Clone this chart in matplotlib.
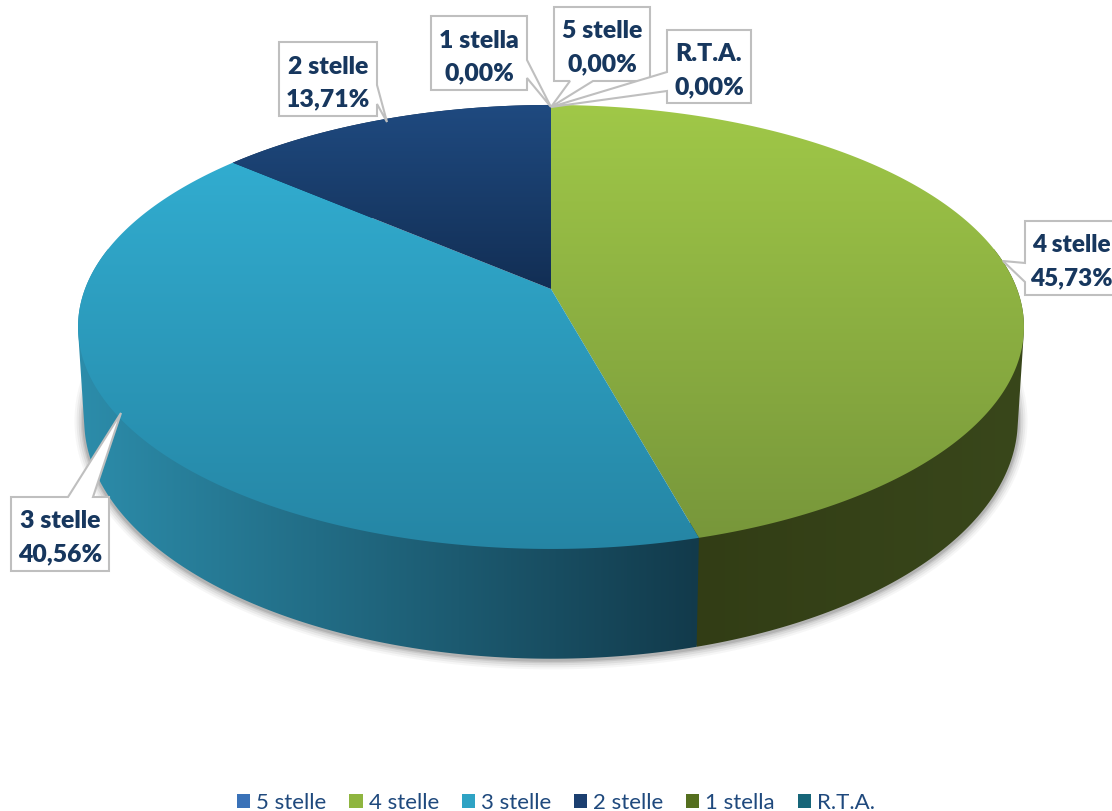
import numpy as np
import matplotlib
matplotlib.use("Agg")
import matplotlib.pyplot as plt
from matplotlib.colors import LinearSegmentedColormap as LSC
from matplotlib.patches import Polygon, Patch

# Data
categories = ["5 stelle", "4 stelle", "3 stelle", "2 stelle", "1 stella", "R.T.A."]
values = [0.00, 45.73, 40.56, 13.71, 0.00, 0.00]
value_labels = ["0,00%", "45,73%", "40,56%", "13,71%", "0,00%", "0,00%"]

# Style per category: top gradient (upper, lower), wall gradient (left, right), legend colour
top_cols = {"5 stelle": ("#3c78c0", "#2f5f9a"), "4 stelle": ("#a0c848", "#76953a"),
            "3 stelle": ("#33b2d6", "#2585a4"), "2 stelle": ("#1f4a80", "#122e54"),
            "1 stella": ("#5f7a22", "#4a5f1a"), "R.T.A.": ("#1a6f85", "#124f60")}
wall_cols = {"4 stelle": ("#323d15", "#39471b"), "3 stelle": ("#2c8dab", "#123a4b"),
             "2 stelle": ("#122e54", "#122e54")}
legend_cols = ["#3a72b8", "#8fb53f", "#2ea3c4", "#1b3f70", "#556f1f", "#176679"]
text_col = "#17375e"

# Label boxes: left, right, top, bottom, pointer root A, tip, pointer root B
boxes = {
    "2 stelle": (279, 377, 43, 117, (377, 105), (387, 123), (377, 86)),
    "1 stella": (431, 527, 17, 91, (527, 79), (551, 108), (527, 61)),
    "5 stelle": (554, 650, 8, 82, (570, 82), (551, 108), (593, 82)),
    "R.T.A.": (667, 751, 31, 104, (667, 92), (551, 108), (667, 73)),
    "4 stelle": (1025, 1130, 222, 296, (1025, 283), (1003, 262), (1025, 264)),
    "3 stelle": (11, 109, 498, 572, (68, 498), (121, 414), (93, 498)),
}
sides = {"2 stelle": "right", "1 stella": "right", "5 stelle": "bottom",
         "R.T.A.": "left", "4 stelle": "left", "3 stelle": "top"}

W, H = 1112, 812
CX, CY = 551, 290
A, B, K = 215.5, 466.0, 0.171
D0 = 91.0
VY = 7500.0

fig = plt.figure(figsize=(W / 100, H / 100), dpi=100, facecolor="white")
ax = fig.add_axes([0, 0, 1, 1])
ax.set_xlim(0, W)
ax.set_ylim(H, 0)
ax.axis("off")
ax.set_autoscale_on(False)


def top_pt(t):
    X, Y = np.sin(t), -np.cos(t)
    w = 1 - K * Y
    return CX + B * X / w, CY + A * Y / w, w


def low_pt(t):
    x, y, w = top_pt(t)
    d = D0 / w
    s = 1 - d / (VY - y)
    return CX + (x - CX) * s, y + d


def hull(points):
    pts = sorted(map(tuple, points))

    def half(seq):
        out = []
        for p in seq:
            while len(out) >= 2 and ((out[-1][0] - out[-2][0]) * (p[1] - out[-2][1])
                                     - (out[-1][1] - out[-2][1]) * (p[0] - out[-2][0])) <= 0:
                out.pop()
            out.append(p)
        return out[:-1]

    return np.array(half(pts) + half(pts[::-1]))


def grad(poly, c0, c1, horizontal, ext, z):
    patch = Polygon(poly, closed=True, fc="none", ec="none", transform=ax.transData)
    ax.add_patch(patch)
    cm = LSC.from_list("g", [c0, c1])
    g = np.linspace(0, 1, 256)
    g = g[None, :] if horizontal else g[:, None]
    im = ax.imshow(g, extent=ext, aspect="auto", cmap=cm, vmin=0, vmax=1,
                   origin="upper", zorder=z, interpolation="bilinear")
    im.set_clip_path(patch)


fracs = np.array(values) / sum(values)
ends = np.cumsum(fracs) * 2 * np.pi
starts = ends - fracs * 2 * np.pi

# Soft shadow under the lower rim
tt = np.linspace(np.pi * 0.45, np.pi * 1.55, 300)
lx, ly = low_pt(tt)
for lw, al in zip([14, 11, 8, 5, 3], [0.04, 0.06, 0.08, 0.10, 0.14]):
    ax.plot(lx, ly + 1, color="#303030", lw=lw, alpha=al, zorder=1, solid_capstyle="round")

# Side walls
for name, s, e in zip(categories, starts, ends):
    if e - s <= 0 or name not in wall_cols:
        continue
    t = np.linspace(s, e, 200)
    ux, uy, _ = top_pt(t)
    bx, by = low_pt(t)
    poly = hull(np.r_[np.c_[ux, uy], np.c_[bx, by]])
    c0, c1 = wall_cols[name]
    if name == "4 stelle":
        ext = (690, 1030, 700, 250)
    elif name == "3 stelle":
        ext = (75, 700, 700, 250)
    else:
        ext = (230, 560, 300, 100)
    grad(poly, c0, c1, True, ext, 2)

# Top faces
for name, s, e in zip(categories, starts, ends):
    if e - s <= 0:
        continue
    t = np.linspace(s, e, 300)
    ux, uy, _ = top_pt(t)
    poly = np.r_[[[CX, CY]], np.c_[ux, uy]]
    c0, c1 = top_cols[name]
    if name == "2 stelle":
        ext = (220, 560, 292, 105)
    else:
        ext = (70, 1030, 555, 105)
    grad(poly, c0, c1, False, ext, 3)

# Labels
for name, lab in zip(categories, value_labels):
    l, r, t, b, p0, tip, p1 = boxes[name]
    side = sides[name]
    if side == "right":
        pts = [(l, t), (r, t), p1, tip, p0, (r, b), (l, b)]
    elif side == "left":
        pts = [(l, t), (r, t), (r, b), (l, b), p0, tip, p1]
    elif side == "bottom":
        pts = [(l, t), (r, t), (r, b), p1, tip, p0, (l, b)]
    else:
        pts = [(l, t), p0, tip, p1, (r, t), (r, b), (l, b)]
    ax.add_patch(Polygon(pts, closed=True, fc="white", ec="#bfbfbf", lw=1.5,
                         joinstyle="miter", zorder=5))
    edge = name == "4 stelle"
    xc = 1071 if edge else (l + r) / 2
    fs = 17.5 if edge else 17.8
    ym = (t + b) / 2
    ax.text(xc, ym - 13.5, name, ha="center", va="center", fontsize=fs, fontweight=800,
            family="Lato", color=text_col, zorder=6)
    ax.text(xc, ym + 19.5, lab, ha="center", va="center", fontsize=fs, fontweight=800,
            family="Lato", color=text_col, zorder=6)

# Legend
handles = [Patch(fc=c, ec="none") for c in legend_cols]
leg = ax.legend(handles, categories, ncol=6, frameon=False, loc="center",
                bbox_to_anchor=(556 / W, 1 - 803.5 / H), bbox_transform=ax.transAxes,
                prop={"family": "Lato", "size": 16}, labelcolor="#1f497d",
                handlelength=0.6, handleheight=0.6, handletextpad=0.27,
                columnspacing=1.02, borderpad=0)

fig.savefig("out.png", dpi=100, facecolor="white")
